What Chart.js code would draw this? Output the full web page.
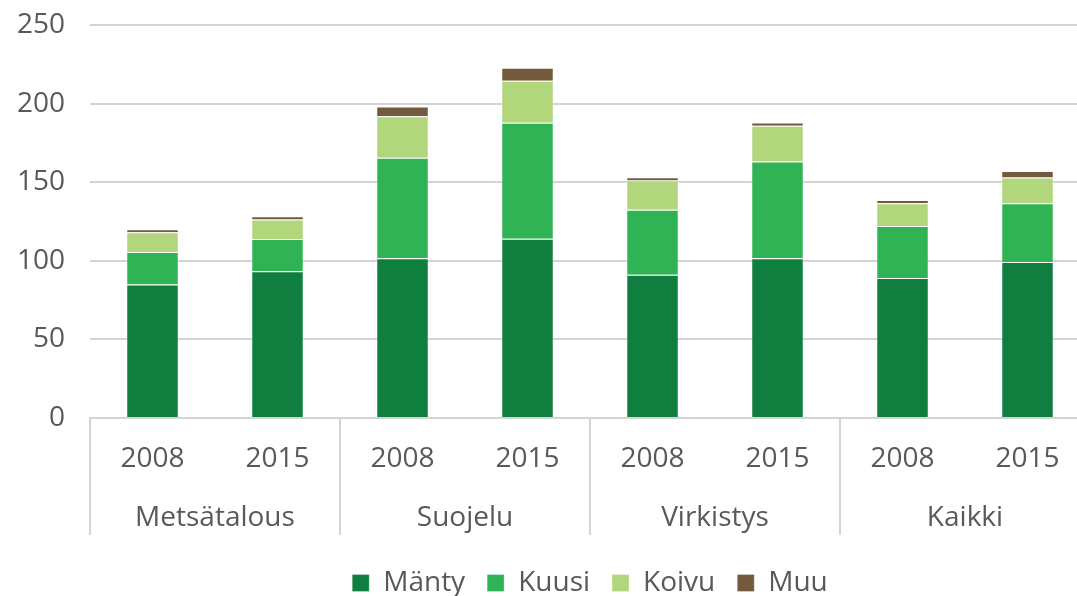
<!DOCTYPE html>
<html>
<head>
<meta charset="utf-8">
<script src="https://cdn.jsdelivr.net/npm/chart.js@4/dist/chart.umd.min.js"></script>
<style>
  html, body { margin: 0; padding: 0; overflow: hidden; background: #fff; }
  #wrap { width: 1090px; height: 607px; }
</style>
</head>
<body>
<div id="wrap"><canvas id="chart"></canvas></div>
<script>
// Kategoriat: vuodet ryhmittäin
const years = ['2008', '2015', '2008', '2015', '2008', '2015', '2008', '2015'];
const groups = ['Metsätalous', 'Suojelu', 'Virkistys', 'Kaikki'];

// Sarjat (luettu kuvasta)
const manty = [85, 93.3, 101.6, 114.1, 91.2, 101.6, 89, 99.2];
const kuusi = [20.6, 20.6, 63.9, 73.7, 41.2, 61.6, 33.2, 37.4];
const koivu = [12.6, 12.3, 26.5, 26.7, 18.7, 22.7, 14.4, 16.4];
const muu = [1.8, 2.1, 6.2, 8.3, 2.1, 2.1, 2.1, 4.2];

const yTicks = [0, 50, 100, 150, 200, 250];

const textColor = '#595959';
const lineColor = '#d4d4d4';
const font = { family: '"Open Sans", sans-serif', size: 28 };

// Ryhmien väliset pystyviivat x-akselin alla
const groupSeparators = {
  id: 'groupSeparators',
  afterDraw(chart) {
    const x = chart.scales.x;
    const x2 = chart.scales.x2;
    const ctx = chart.ctx;
    const step = x.getPixelForValue(1) - x.getPixelForValue(0);
    ctx.save();
    ctx.strokeStyle = lineColor;
    ctx.lineWidth = 2;
    for (let i = 0; i <= groups.length; i++) {
      const px = Math.round(x.getPixelForValue(i * 2) - step / 2);
      ctx.beginPath();
      ctx.moveTo(px, chart.chartArea.bottom);
      ctx.lineTo(px, x2.top + 34);
      ctx.stroke();
    }
    ctx.restore();
  }
};

function makeDataset(label, data, color) {
  return {
    label: label,
    data: data,
    backgroundColor: color,
    borderColor: 'rgba(255, 255, 255, 0.3)',
    borderWidth: 1,
    categoryPercentage: 1,
    barPercentage: 0.42
  };
}

new Chart(document.getElementById('chart'), {
  type: 'bar',
  data: {
    labels: years,
    datasets: [
      makeDataset('Mänty', manty, '#0f7e3f'),
      makeDataset('Kuusi', kuusi, '#30b354'),
      makeDataset('Koivu', koivu, '#b2d67c'),
      makeDataset('Muu', muu, '#735a3d')
    ]
  },
  options: {
    responsive: true,
    maintainAspectRatio: false,
    animation: false,
    layout: { padding: { top: 25, right: 0, bottom: 0, left: 0 } },
    plugins: {
      tooltip: { enabled: false },
      legend: {
        position: 'bottom',
        fullSize: false,
        labels: {
          boxWidth: 17,
          boxHeight: 17,
          padding: 22,
          color: textColor,
          font: font
        }
      }
    },
    scales: {
      x: {
        stacked: true,
        grid: { display: false, drawTicks: false },
        border: { display: true, color: lineColor, width: 2 },
        ticks: { color: textColor, font: font, padding: 24.7, maxRotation: 0 }
      },
      x2: {
        type: 'category',
        labels: groups,
        position: 'bottom',
        offset: true,
        grid: { display: false, drawTicks: false },
        border: { display: false },
        ticks: { color: textColor, font: font, padding: 0, maxRotation: 0 },
        afterFit(scale) { scale.height += 12.4; }
      },
      y: {
        stacked: true,
        min: 0,
        max: 250,
        afterBuildTicks(scale) { scale.ticks = yTicks.map(v => ({ value: v })); },
        grid: { color: lineColor, lineWidth: 2, drawTicks: false },
        border: { display: false },
        ticks: { color: textColor, font: font, padding: 25 },
        afterFit(scale) {
          scale.width = 90;
          // ylin tikkiteksti ei tarvitse omaa lisätilaa
          scale.paddingTop = 0;
          scale.paddingBottom = 0;
        }
      }
    }
  },
  plugins: [groupSeparators]
});
</script>
</body>
</html>
